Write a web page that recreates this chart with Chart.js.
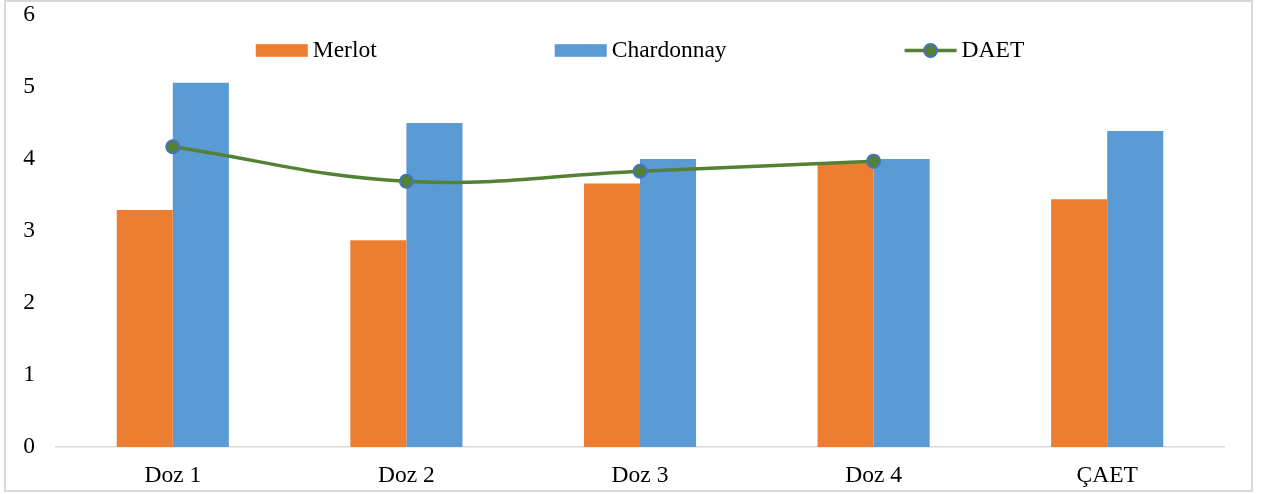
<!DOCTYPE html>
<html>
<head>
<meta charset="utf-8">
<script src="https://cdn.jsdelivr.net/npm/chart.js@4.4.1/dist/chart.umd.min.js"></script>
<style>
  html, body { margin: 0; padding: 0; background: #fff; }
  canvas { display: block; }
</style>
</head>
<body>
<canvas id="c" width="1270" height="494"></canvas>
<script>
// Categories and series
const categories = ['Doz 1', 'Doz 2', 'Doz 3', 'Doz 4', 'ÇAET'];
const merlot = [3.29, 2.87, 3.66, 3.95, 3.44];
const chardonnay = [5.06, 4.50, 4.00, 4.00, 4.39];
const daet = [4.17, 3.69, 3.83, 3.97, null];
const yTicks = [0, 1, 2, 3, 4, 5, 6];

const FONT = "'Liberation Serif', 'Times New Roman', serif";
const ORANGE = '#ED7D31';
const BLUE = '#5B9BD5';
const GREEN = '#548235';
const MARKER_EDGE = '#4472C4';

// Outer frame and the in-plot legend row
const framePlugin = {
  id: 'frameAndLegend',
  beforeDraw(chart) {
    const ctx = chart.ctx;
    ctx.save();
    ctx.fillStyle = '#fff';
    ctx.fillRect(0, 0, chart.width, chart.height);
    ctx.strokeStyle = '#d9d9d9';
    ctx.lineWidth = 2;
    ctx.strokeRect(5, 1, 1247, 490);
    ctx.restore();
  },
  afterDraw(chart) {
    const ctx = chart.ctx;
    const area = chart.chartArea;
    const symW = 52, gap = 5, spacing = 178, baseY = 57, midY = 50.5;
    ctx.save();
    ctx.font = '23.5px ' + FONT;
    const items = chart.data.datasets.map(ds => ({
      ds, w: symW + gap + ctx.measureText(ds.label).width
    }));
    const total = items.reduce((s, it) => s + it.w, 0) + spacing * (items.length - 1);
    let x = (area.left + area.right) / 2 - total / 2;
    items.forEach(({ ds, w }) => {
      if (ds.type === 'line') {
        ctx.strokeStyle = ds.borderColor;
        ctx.lineWidth = ds.borderWidth;
        ctx.beginPath();
        ctx.moveTo(x, midY);
        ctx.lineTo(x + symW, midY);
        ctx.stroke();
        ctx.beginPath();
        ctx.arc(x + symW / 2, midY, ds.pointRadius, 0, Math.PI * 2);
        ctx.fillStyle = ds.pointBackgroundColor;
        ctx.fill();
        ctx.lineWidth = ds.pointBorderWidth;
        ctx.strokeStyle = ds.pointBorderColor;
        ctx.stroke();
      } else {
        ctx.fillStyle = ds.backgroundColor;
        ctx.fillRect(x, midY - 6.3, symW, 12.6);
      }
      ctx.fillStyle = '#000';
      ctx.textBaseline = 'alphabetic';
      ctx.textAlign = 'left';
      ctx.fillText(ds.label, x + symW + gap, baseY);
      x += w + spacing;
    });
    ctx.restore();
  }
};

new Chart(document.getElementById('c'), {
  data: {
    labels: categories,
    datasets: [
      {
        type: 'bar', label: 'Merlot', data: merlot,
        backgroundColor: ORANGE, order: 2,
        categoryPercentage: 0.48, barPercentage: 1.0
      },
      {
        type: 'bar', label: 'Chardonnay', data: chardonnay,
        backgroundColor: BLUE, order: 2,
        categoryPercentage: 0.48, barPercentage: 1.0
      },
      {
        type: 'line', label: 'DAET', data: daet,
        borderColor: GREEN, borderWidth: 3.5, tension: 0.4,
        pointRadius: 6.5, pointBackgroundColor: GREEN,
        pointBorderColor: MARKER_EDGE, pointBorderWidth: 2,
        spanGaps: false, fill: false, order: 0
      }
    ]
  },
  options: {
    responsive: false,
    animation: false,
    events: [],
    layout: { padding: { left: 0, right: 46, top: 15, bottom: 0 } },
    plugins: {
      legend: { display: false },
      tooltip: { enabled: false }
    },
    scales: {
      x: {
        grid: { display: false, drawTicks: false },
        border: { display: true, color: '#d9d9d9', width: 1.5 },
        ticks: { color: '#000', font: { family: FONT, size: 23.5 }, padding: 15, maxRotation: 0 },
        afterFit(scale) {
          scale.height = 47;
          scale.paddingLeft = 0; scale.paddingRight = 0;
        }
      },
      y: {
        min: 0, max: 6,
        grid: { display: false, drawTicks: false },
        border: { display: false },
        ticks: { color: '#000', font: { family: FONT, size: 23.5 }, padding: 21 },
        afterBuildTicks(scale) { scale.ticks = yTicks.map(v => ({ value: v })); },
        afterFit(scale) {
          scale.width = 56;
          scale.paddingTop = 0; scale.paddingBottom = 0;
        }
      }
    }
  },
  plugins: [framePlugin]
});
</script>
</body>
</html>
